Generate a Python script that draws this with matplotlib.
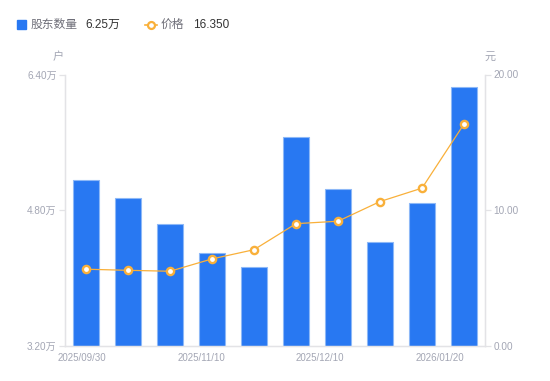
import matplotlib
matplotlib.use('Agg')
import matplotlib.pyplot as plt
from matplotlib.lines import Line2D
from matplotlib.patches import Rectangle
import numpy as np

plt.rcParams['font.family'] = ['Liberation Sans', 'Noto Sans CJK SC', 'DejaVu Sans']

### Data
dates   = ['2025/09/30', '2025/10/20', '2025/10/31', '2025/11/10', '2025/11/20',
           '2025/11/28', '2025/12/10', '2025/12/19', '2025/12/31', '2026/01/20']
holders = [5.15, 4.94, 4.64, 4.29, 4.13, 5.66, 5.05, 4.42, 4.88, 6.25]   # 万户
price   = [5.64, 5.56, 5.49, 6.40, 7.08, 9.00, 9.18, 10.63, 11.62, 16.35]  # 元
shown_dates = [0, 3, 6, 9]

left_ticks  = [3.20, 4.80, 6.40]
right_ticks = [0.00, 10.00, 20.00]

### Styles
bar_color  = '#2878F2'
bar_edge   = '#8DB8F7'
line_color = '#F9B03A'
tick_color = '#A3A6B4'
axis_color = '#E3E3E6'

fig = plt.figure(figsize=(5.5, 3.81), dpi=100)
ax = fig.add_axes([65/550, 35.3/381, 420/550, 271.2/381])
ax2 = ax.twinx()

x = np.arange(len(dates))
ax.bar(x, holders, width=0.6, color=bar_color, edgecolor=bar_edge,
       linewidth=0.8, zorder=2)
ax.set_xlim(-0.5, len(dates) - 0.5)
ax.set_ylim(left_ticks[0], left_ticks[-1])

ax2.plot(x, price, color=line_color, linewidth=0.9, marker='o', markersize=5.2,
         markerfacecolor='white', markeredgecolor=line_color, markeredgewidth=1.7,
         zorder=3)
ax2.set_ylim(right_ticks[0], right_ticks[-1])

### Axes styling
for a in (ax, ax2):
    a.spines['top'].set_visible(False)
    for side in ('left', 'right', 'bottom'):
        a.spines[side].set_color(axis_color)
        a.spines[side].set_linewidth(0.9)

ax.set_yticks(left_ticks)
ax.set_yticklabels([f'{v:.2f}万' for v in left_ticks])
ax2.set_yticks(right_ticks)
ax2.set_yticklabels([f'{v:.2f}' for v in right_ticks])
ax.tick_params(axis='y', colors=axis_color, labelcolor=tick_color, labelsize=7.2,
               length=4, width=0.9, pad=2)
ax2.tick_params(axis='y', colors=axis_color, labelcolor=tick_color, labelsize=7.2,
                length=4, width=0.9, pad=2)
ax.set_xticks([])

# date labels spread across the bottom
label_pos = [17/420, 136/420, 255/420, 375/420]
for i, xp in zip(shown_dates, label_pos):
    ax.text(xp, -0.028, dates[i], transform=ax.transAxes, ha='center', va='top',
            fontsize=7, color=tick_color)

# unit labels
fig.text(58/550, 1 - 57/381, '户', ha='center', va='center', fontsize=8, color=tick_color)
fig.text(490/550, 1 - 57/381, '元', ha='center', va='center', fontsize=8, color=tick_color)

### Legend (manual)
ly = 1 - 24.5/381
fig.patches.append(Rectangle((17/550, ly - 4.5/381), 9/550, 9/381,
                             transform=fig.transFigure, color=bar_color))
fig.text(31/550, ly, '股东数量', ha='left', va='center', fontsize=8.5, color='#6E6E78')
fig.text(85/550, ly, f'{holders[-1]:.2f}万', ha='left', va='center', fontsize=8.5, color='#333333')
fig.lines.append(Line2D([145/550, 157/550], [ly, ly], transform=fig.transFigure,
                        color=line_color, linewidth=1.2))
fig.lines.append(Line2D([151/550], [ly], transform=fig.transFigure, color=line_color,
                        marker='o', markersize=5, markerfacecolor='white',
                        markeredgewidth=1.6, linestyle='none'))
fig.text(161/550, ly, '价格', ha='left', va='center', fontsize=8.5, color='#6E6E78')
fig.text(193/550, ly, f'{price[-1]:.3f}', ha='left', va='center', fontsize=8.5, color='#333333')

fig.savefig('out.png', dpi=100)
